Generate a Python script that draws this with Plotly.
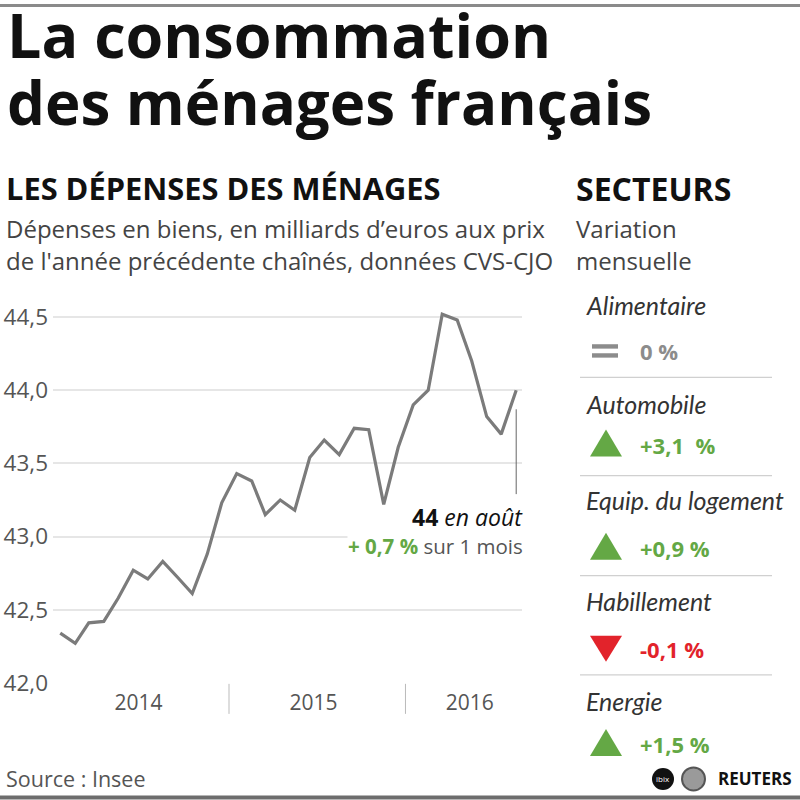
import plotly.graph_objects as go

# ---------------- data ----------------
months = ["2014-01", "2014-02", "2014-03", "2014-04", "2014-05", "2014-06",
          "2014-07", "2014-08", "2014-09", "2014-10", "2014-11", "2014-12",
          "2015-01", "2015-02", "2015-03", "2015-04", "2015-05", "2015-06",
          "2015-07", "2015-08", "2015-09", "2015-10", "2015-11", "2015-12",
          "2016-01", "2016-02", "2016-03", "2016-04", "2016-05", "2016-06",
          "2016-07", "2016-08"]
depenses = [42.34, 42.27, 42.41, 42.42, 42.58, 42.77,
            42.71, 42.83, 42.72, 42.61, 42.88, 43.23,
            43.43, 43.38, 43.15, 43.25, 43.18, 43.54,
            43.66, 43.56, 43.74, 43.73, 43.22, 43.61,
            43.90, 44.00, 44.52, 44.48, 44.20, 43.82,
            43.70, 44.00]
year_labels = ["2014", "2015", "2016"]
year_label_pos = ["2014-06-12", "2015-06-09", "2016-04-27"]
year_dividers = ["2014-12-16", "2015-12-16"]
y_ticks = [42.0, 42.5, 43.0, 43.5, 44.0, 44.5]

secteurs = ["Alimentaire", "Automobile", "Equip. du logement", "Habillement", "Energie"]
variations = [0.0, 3.1, 0.9, -0.1, 1.5]
variation_labels = ["0 %", "+3,1\u00a0 %", "+0,9 %", "-0,1 %", "+1,5 %"]

# ---------------- style ----------------
W, H = 800, 816
REF = 800.0  # layout positions below are given on an 800x800 grid
FONT = "Open Sans"
GREEN = "#64a845"
RED = "#e2232b"
GREY_LINE = "#7b7b7b"
TXT = "#444444"


def px(x):
    return x / W


def py(y):
    return 1 - y / REF


fig = go.Figure()
fig.add_trace(go.Scatter(
    x=months, y=depenses, mode="lines",
    line=dict(color=GREY_LINE, width=3.2),
    hoverinfo="skip", showlegend=False,
))

# plot area
x0p, x1p = 53, 522
ybot, ytop = 681.7, 301.1

fig.update_layout(
    width=W, height=H,
    margin=dict(l=0, r=0, t=0, b=0),
    paper_bgcolor="white", plot_bgcolor="white",
    separators=",.",
    font=dict(family=FONT, color=TXT),
    xaxis=dict(
        domain=[px(x0p), px(x1p)],
        type="date",
        range=["2013-12-17", "2016-08-13"],
        tickvals=year_label_pos, ticktext=year_labels,
        showgrid=False, zeroline=False, showline=False, ticks="",
        tickfont=dict(size=21, color="#555555", family=FONT),
        ticklabelstandoff=4,
    ),
    yaxis=dict(
        domain=[py(ybot), py(ytop)],
        range=[41.995, 44.6],
        tickvals=y_ticks, tickformat=".1f",
        showgrid=True, gridcolor="#e6e6e6", gridwidth=1.5,
        zeroline=False, showline=False, ticks="",
        tickfont=dict(size=22.5, color="#555555", family=FONT),
        ticklabelstandoff=4,
    ),
)

shapes = []
# year dividers
for d in year_dividers:
    shapes.append(dict(type="line", xref="x", yref="paper", x0=d, x1=d,
                       y0=py(682), y1=py(712), line=dict(color="#bbbbbb", width=1)))
# callout line
shapes.append(dict(type="line", xref="x", yref="y", x0=months[-1], x1=months[-1],
                   y0=43.29, y1=43.87, line=dict(color="#666666", width=1)))
# borders
shapes.append(dict(type="line", xref="paper", yref="paper", x0=0, x1=1,
                   y0=py(4.5), y1=py(4.5), line=dict(color="#8a8a8a", width=3)))
shapes.append(dict(type="line", xref="paper", yref="paper", x0=0, x1=1,
                   y0=py(795.5), y1=py(795.5), line=dict(color="#6d6d6d", width=4)))

ann = []


def text(x, y, s, size, color=TXT, bold=False, italic=False, anchor="left",
         family=FONT, bg=None, yanchor="middle", pad=1):
    d = dict(xref="paper", yref="paper", x=px(x), y=py(y), text=s, showarrow=False,
             xanchor=anchor, yanchor=yanchor, align=anchor, borderpad=pad,
             font=dict(size=size, color=color, family=family,
                       weight=700 if bold else 400,
                       style="italic" if italic else "normal"))
    if bg:
        d["bgcolor"] = bg
    ann.append(d)


# titles
text(5, 33, "La consommation", 61, color="#111111", bold=True)
text(5, 101, "des ménages français", 60, color="#111111", bold=True)
text(4, 187, "LES DÉPENSES DES MÉNAGES", 30.8, color="#111111", bold=True)
text(4, 227, "Dépenses en biens, en milliards d\u2019euros aux prix", 24, color=TXT)
text(4, 259, "de l'année précédente chaînés, données CVS-CJO", 24, color=TXT)
text(574, 187, "SECTEURS", 32, color="#111111", bold=True)
text(574, 227, "Variation", 24, color=TXT)
text(574, 259, "mensuelle", 24, color=TXT)

# callout
text(524, 515, "<b>44</b> <i>en août</i>", 23, color="#111111", anchor="right", pad=0)
text(524, 544, "<b><span style='color:%s'>+ 0,7 %%</span></b> sur 1 mois" % GREEN,
     20.5, color="#555555", anchor="right", bg="white", pad=0)

# sectors panel
row_label_y = [304, 402, 498, 599, 699]
row_val_y = [350, 443, 546, 647, 742]
sep_y = [376, 474, 574, 673]
for i, (name, v, lab) in enumerate(zip(secteurs, variations, variation_labels)):
    ly, vy = row_label_y[i], row_val_y[i]
    text(584, ly, name, 25, color="#333333", italic=True, family="Lato")
    if v > 0:
        col = GREEN
        shapes.append(dict(type="path", xref="paper", yref="paper",
                           path="M %f,%f L %f,%f L %f,%f Z" % (px(590), py(vy + 12), px(622), py(vy + 12), px(606), py(vy - 15)),
                           fillcolor=col, line=dict(width=0)))
    elif v < 0:
        col = RED
        shapes.append(dict(type="path", xref="paper", yref="paper",
                           path="M %f,%f L %f,%f L %f,%f Z" % (px(590), py(vy - 13), px(622), py(vy - 13), px(606), py(vy + 13)),
                           fillcolor=col, line=dict(width=0)))
    else:
        col = "#8c8c8c"
        for yy in (vy - 5, vy + 4):
            shapes.append(dict(type="rect", xref="paper", yref="paper",
                               x0=px(592), x1=px(618), y0=py(yy - 2.2), y1=py(yy + 2.2),
                               fillcolor=col, line=dict(width=0)))
    text(638, vy, lab, 22, color=col, bold=True)

for sy in sep_y:
    shapes.append(dict(type="line", xref="paper", yref="paper", x0=px(580), x1=px(772),
                       y0=py(sy), y1=py(sy), line=dict(color="#d0d0d0", width=1.2)))

# source & logos
text(4, 777, "Source : Insee", 21.5, color="#555555")
shapes.append(dict(type="circle", xref="paper", yref="paper", x0=px(652), x1=px(674),
                   y0=py(788), y1=py(766), fillcolor="#111111", line=dict(width=0)))
shapes.append(dict(type="circle", xref="paper", yref="paper", x0=px(682), x1=px(705),
                   y0=py(788.5), y1=py(765.5), fillcolor="#9a9a9a", line=dict(color="#555555", width=2)))
text(663, 777, "ibix", 8, color="white", anchor="center")
text(794, 777, "REUTERS", 17, color="#111111", bold=True, anchor="right")

fig.update_layout(shapes=shapes, annotations=ann)
fig.write_html(
    "out.html",
    config={"displayModeBar": False},
    post_script=(
        "document.documentElement.style.margin='0';"
        "document.documentElement.style.overflow='hidden';"
        "document.body.style.margin='0';"
        "document.body.style.overflow='hidden';"
    ),
)
